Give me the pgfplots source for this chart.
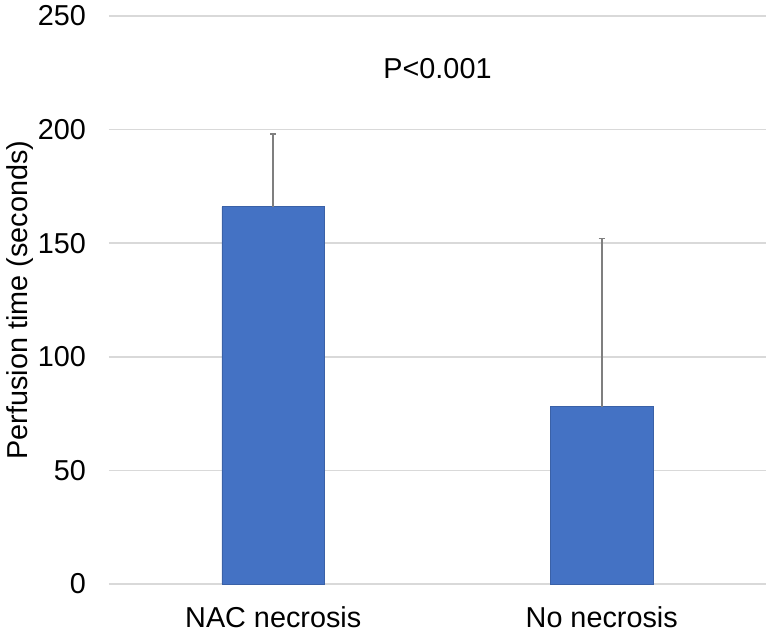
\documentclass[border=0pt]{standalone}
\usepackage{pgfplots}
\pgfplotsset{compat=1.18}
\usepackage{fontspec}
\setmainfont{Liberation Sans}
\definecolor{barblue}{HTML}{4472C4}
\definecolor{gridgray}{HTML}{D9D9D9}
\definecolor{errgray}{HTML}{7F7F7F}
\begin{document}
\begin{tikzpicture}
\useasboundingbox (-54.5pt,-24pt) rectangle (329.5pt,292pt);
\begin{axis}[
  at={(0,0)}, anchor=south west,
  scale only axis,
  width=328.5pt, height=284pt,
  xmin=-0.5, xmax=1.5,
  ymin=0, ymax=250,
  ytick={0,50,100,150,200,250},
  xtick={0,1},
  xticklabels={NAC necrosis, No necrosis},
  axis line style={draw=none},
  major tick length=0pt,
  ymajorgrids,
  grid style={gridgray, line width=0.75pt},
  font=\fontsize{14.4}{17}\selectfont,
  /pgf/number format/assume math mode=true,
  yticklabel style={xshift=-8pt},
  xticklabel style={yshift=-8pt},
  ylabel={Perfusion time (seconds)},
  ylabel style={yshift=-4.5pt},
  clip=false,
]
\addplot[
  ybar, bar width=0.312,
  fill=barblue, draw=barblue!85!black, line width=0.4pt,
  error bars/.cd, y dir=plus, y explicit,
  error bar style={errgray, line width=0.8pt},
  error mark options={errgray, line width=0.8pt, mark size=1.6pt, rotate=90},
] coordinates {
  (0,166) +- (0,32)
  (1,78) +- (0,74)
};
\node[font=\fontsize{14.4}{17}\selectfont] at (axis cs:0.5,227) {P<0.001};
\end{axis}
\end{tikzpicture}
\end{document}
